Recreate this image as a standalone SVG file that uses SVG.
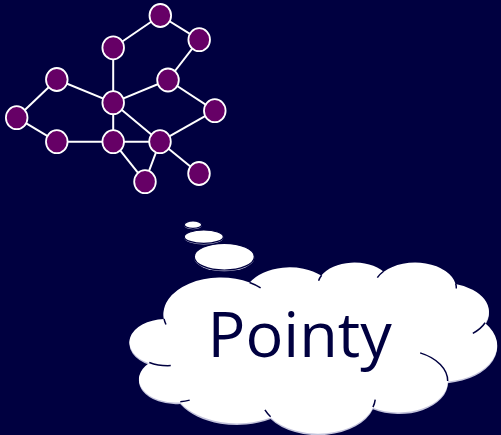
<svg xmlns="http://www.w3.org/2000/svg" width="501" height="435" viewBox="0 0 501 435">
<style>
.edge{stroke:#ffffff;stroke-width:2;fill:none}
.node{fill:#660066;stroke:#ffffff;stroke-width:1.8}
.cloud{fill:#ffffff;stroke:#000040;stroke-width:1.2}
.shadow{fill:#c4c4dc;stroke:none}
.fold{fill:none;stroke:#000040;stroke-width:1.5}
.lbl{font-family:"Open Sans","DejaVu Sans",sans-serif;font-size:63px;fill:#000040}
</style>
<defs>
<path id="cloudShape" d="M 3900 14370 A 6753 9190 0 0 1 14005.3 5202.3 A 5333 7267 0 0 1 22456.1 3431.0 A 4365 5945 0 0 1 29834.0 2479.8 A 4857 6595 0 0 1 38318.4 5576.4 A 5333 7273 0 0 1 41818.9 15460.2 A 6775 9220 0 0 1 37404.4 30202.2 A 5785 7867 0 0 1 28556.7 36813.0 A 6752 9215 0 0 1 16481.5 39265.6 A 7720 10543 0 0 1 5805.2 35473.2 A 4360 5918 0 0 1 2114.5 25550.7 A 4345 5945 0 0 1 3900 14370 Z"/>
</defs>
<rect width="501" height="435" fill="#000040"/>
<g id="connectors">
<line class="edge" x1="160.3" y1="15.5" x2="113.2" y2="47.8"/>
<line class="edge" x1="160.3" y1="15.5" x2="199.2" y2="39.7"/>
<line class="edge" x1="199.2" y1="39.7" x2="168" y2="80"/>
<line class="edge" x1="168" y1="80" x2="113.2" y2="102.7"/>
<line class="edge" x1="168" y1="80" x2="214.8" y2="110.7"/>
<line class="edge" x1="113.2" y1="47.8" x2="113.2" y2="102.7"/>
<line class="edge" x1="56.8" y1="79.5" x2="113.2" y2="102.7"/>
<line class="edge" x1="56.8" y1="79.5" x2="16.7" y2="117.7"/>
<line class="edge" x1="16.7" y1="117.7" x2="56.8" y2="141.7"/>
<line class="edge" x1="56.8" y1="141.7" x2="113.2" y2="141.7"/>
<line class="edge" x1="113.2" y1="102.7" x2="113.2" y2="141.7"/>
<line class="edge" x1="113.2" y1="102.7" x2="160" y2="141.7"/>
<line class="edge" x1="113.2" y1="141.7" x2="160" y2="141.7"/>
<line class="edge" x1="214.8" y1="110.7" x2="160" y2="141.7"/>
<line class="edge" x1="160" y1="141.7" x2="145" y2="181.7"/>
<line class="edge" x1="113.2" y1="141.7" x2="145" y2="181.7"/>
<line class="edge" x1="160" y1="141.7" x2="199" y2="173.5"/>
</g>
<g id="nA"><ellipse class="node" cx="160.3" cy="15.5" rx="10.8" ry="11.5"/></g>
<g id="nB"><ellipse class="node" cx="199.2" cy="39.7" rx="10.8" ry="11.5"/></g>
<g id="nC"><ellipse class="node" cx="113.2" cy="47.8" rx="10.8" ry="11.5"/></g>
<g id="nD"><ellipse class="node" cx="168" cy="80" rx="10.8" ry="11.5"/></g>
<g id="nE"><ellipse class="node" cx="56.8" cy="79.5" rx="10.8" ry="11.5"/></g>
<g id="nF"><ellipse class="node" cx="113.2" cy="102.7" rx="10.8" ry="11.5"/></g>
<g id="nG"><ellipse class="node" cx="214.8" cy="110.7" rx="10.8" ry="11.5"/></g>
<g id="nH"><ellipse class="node" cx="16.7" cy="117.7" rx="10.8" ry="11.5"/></g>
<g id="nI"><ellipse class="node" cx="56.8" cy="141.7" rx="10.8" ry="11.5"/></g>
<g id="nJ"><ellipse class="node" cx="113.2" cy="141.7" rx="10.8" ry="11.5"/></g>
<g id="nK"><ellipse class="node" cx="160" cy="141.7" rx="10.8" ry="11.5"/></g>
<g id="nL"><ellipse class="node" cx="145" cy="181.7" rx="10.8" ry="11.5"/></g>
<g id="nM"><ellipse class="node" cx="199" cy="173.5" rx="10.8" ry="11.5"/></g>
<g id="cloud">
<ellipse class="shadow" cx="224.3" cy="258" rx="30" ry="13.3"/>
<ellipse class="cloud" cx="224.3" cy="256.7" rx="30" ry="13.3"/>
<ellipse class="shadow" cx="203.8" cy="237.8" rx="19.5" ry="6.7"/>
<ellipse class="cloud" cx="203.8" cy="236.7" rx="19.5" ry="6.7"/>
<ellipse class="shadow" cx="193" cy="225.6" rx="8.7" ry="3.7"/>
<ellipse class="cloud" cx="193" cy="224.7" rx="8.7" ry="3.7"/>
<use href="#cloudShape" class="shadow" transform="translate(131,263.6) scale(0.008472,0.003958)"/>
<use href="#cloudShape" class="cloud" style="vector-effect:non-scaling-stroke" transform="translate(131,262) scale(0.008472,0.003958)"/>
<path class="fold" style="vector-effect:non-scaling-stroke" transform="translate(131,262) scale(0.008472,0.003958)" d="M 4693 26177 A 4345 5945 0 0 1 2159.5 25379.6 M 6928 34899 A 4360 5918 0 0 1 5818.9 35280.8 M 16478 39090 A 6752 9215 0 0 1 15809.8 37348.6 M 28827 34751 A 6752 9215 0 0 1 28560.3 36659.5 M 34129 22954 A 5785 7867 0 0 1 37380.7 30089.8 M 41798 15354 A 5333 7273 0 0 1 40349.0 18031.1 M 38324 5426 A 4857 6595 0 0 1 38400.4 6689.4 M 29078 3952 A 4857 6595 0 0 1 29820.7 2338.3 M 22141 4720 A 4365 5945 0 0 1 22499.7 3331.9 M 14000 5192 A 6753 9190 0 0 1 15299.9 6540.5 M 4127 15789 A 6753 9190 0 0 1 3900.2 14370"/>
<text class="lbl" x="207.5" y="357">Pointy</text>
</g>
</svg>
